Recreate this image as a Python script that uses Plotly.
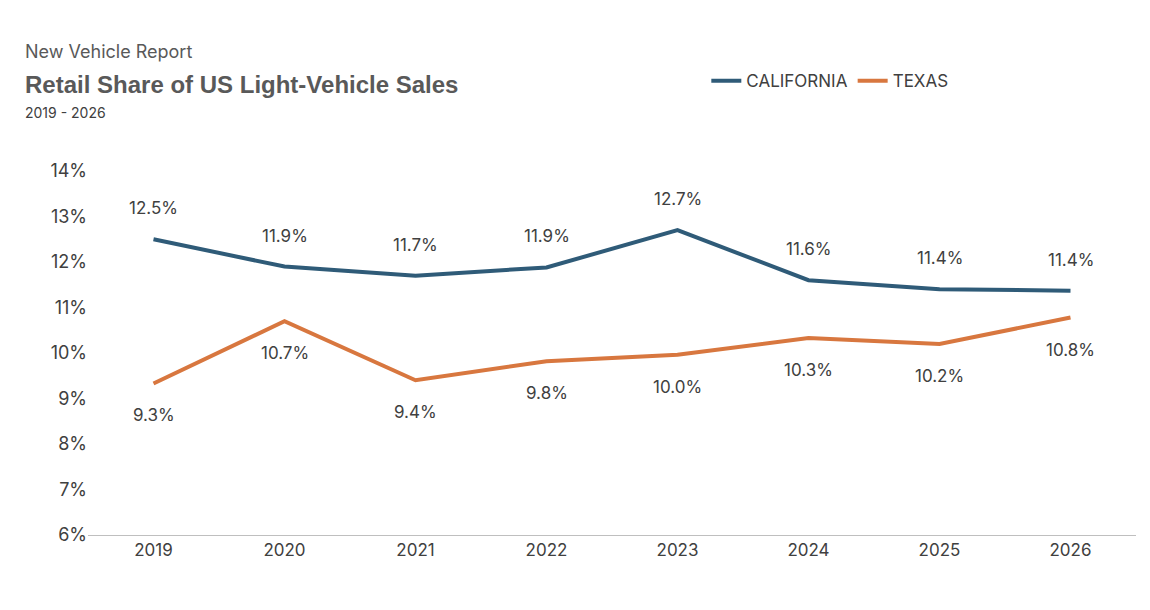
import plotly.graph_objects as go

years = ["2019","2020","2021","2022","2023","2024","2025","2026"]
california = [12.5, 11.9, 11.7, 11.88, 12.7, 11.6, 11.4, 11.37]
texas = [9.33, 10.7, 9.4, 9.82, 9.96, 10.33, 10.2, 10.78]
tick_vals = [6,7,8,9,10,11,12,13,14]
tick_text = [f"{v}%" for v in tick_vals]

blue = "#2F5B78"
orange = "#D8773F"
txt = "#404040"
xi = list(range(len(years)))

fig = go.Figure()
fig.add_trace(go.Scatter(x=xi, y=california, mode="lines", name="CALIFORNIA",
                         line=dict(color=blue, width=4)))
fig.add_trace(go.Scatter(x=xi, y=texas, mode="lines", name="TEXAS",
                         line=dict(color=orange, width=4)))
for x, c, t in zip(xi, california, texas):
    fig.add_annotation(x=x, y=c, text=f"{c:.1f}%", showarrow=False, yshift=31,
                       font=dict(size=17, color=txt))
    fig.add_annotation(x=x, y=t, text=f"{t:.1f}%", showarrow=False, yshift=-32,
                       font=dict(size=17, color=txt))

fig.add_annotation(xref="paper", yref="paper", x=-0.062, y=1.327, xanchor="left", yanchor="middle",
                   text="New Vehicle Report", showarrow=False, font=dict(size=18, color="#595959"))
fig.add_annotation(xref="paper", yref="paper", x=-0.062, y=1.239, xanchor="left", yanchor="middle",
                   text="<b>Retail Share of US Light-Vehicle Sales</b>", showarrow=False,
                   font=dict(size=24, color="#595959", family="Liberation Sans, Arial, sans-serif"))
fig.add_annotation(xref="paper", yref="paper", x=-0.062, y=1.162, xanchor="left", yanchor="middle",
                   text="2019 - 2026", showarrow=False, font=dict(size=14, color=txt))

fig.update_layout(
    width=1150, height=610, paper_bgcolor="white", plot_bgcolor="white",
    margin=dict(l=80, r=22, t=163, b=83),
    font=dict(family="Inter, Lato, sans-serif", color=txt),
    showlegend=True,
    legend=dict(orientation="h", x=0.59, y=1.247, xanchor="left", yanchor="middle",
                font=dict(size=17, color=txt)),
    xaxis=dict(range=[-0.5, 7.5], tickvals=xi, ticktext=years, showgrid=False, zeroline=False,
               showline=True, linecolor="#BFBFBF", linewidth=1, ticks="",
               tickfont=dict(size=17, color=txt)),
    yaxis=dict(range=[6,14], tickvals=tick_vals, ticktext=tick_text, showgrid=False,
               zeroline=False, showline=False, tickfont=dict(size=18, color=txt)),
)
fig.write_html("out.html")
